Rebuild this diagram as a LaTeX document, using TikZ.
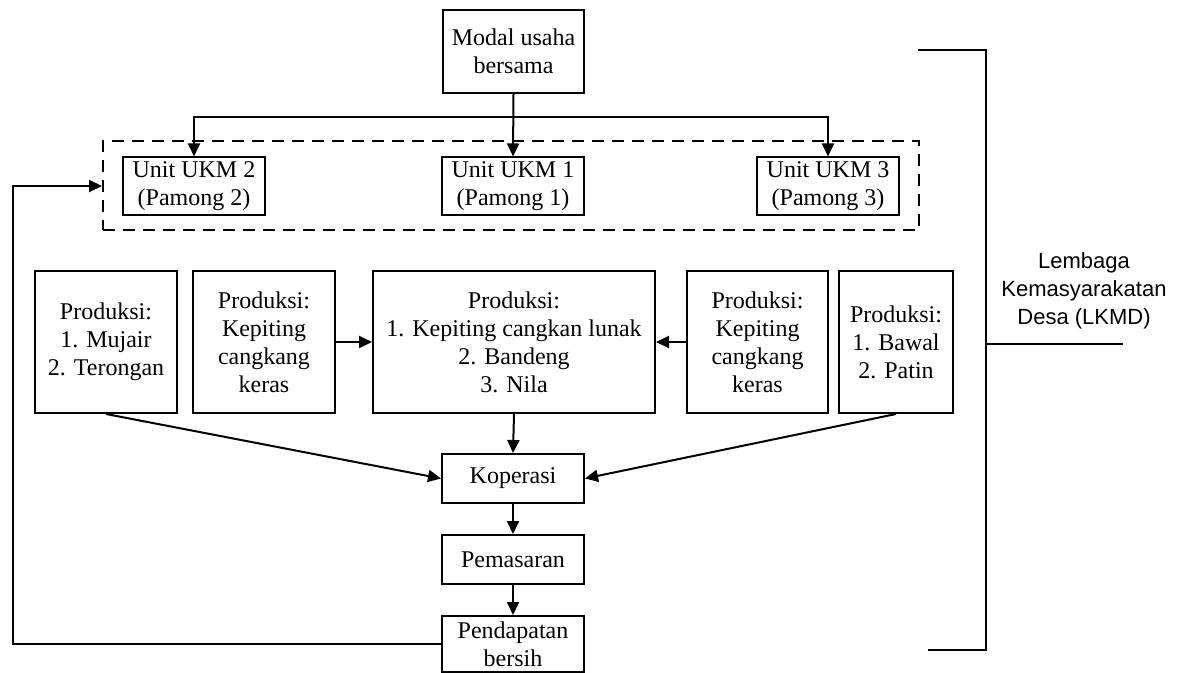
\documentclass[tikz,border=0pt]{standalone}
\usepackage{fontspec}
\setmainfont{Liberation Serif}
\newfontfamily\lkmdfont{Liberation Sans}
\usetikzlibrary{arrows.meta}
\tikzset{
  blk/.style={rectangle,draw=black,line width=1pt,fill=white,
    minimum width=71pt,minimum height=28pt,
    font=\fontsize{12}{14}\selectfont,align=center,inner sep=2pt},
  pblk/.style={blk,minimum height=71pt},
  grpbox/.style={rectangle,draw=black,line width=1pt,
    dash pattern=on 6pt off 4pt,inner sep=0pt},
  arr/.style={-{Triangle[length=6.5pt,width=6pt]},line width=1pt},
  brk/.style={line width=0.8pt},
  lbl/.style={font=\lkmdfont\fontsize{11}{14}\selectfont,align=center},
}
\begin{document}
\begin{tikzpicture}[x=0.5pt,y=-0.5pt]
  \useasboundingbox (0,0) rectangle (1193,673);

  %% Modal and units
  \node[blk,minimum height=41.5pt,minimum width=70.5pt] (modal) at (513.5,51.5) {Modal usaha\\bersama};
  \node[grpbox,minimum width=408pt,minimum height=44.5pt] (grp) at (511,186) {};
  \node[blk] (ukm2) at (194,186) {Unit UKM 2\\(Pamong 2)};
  \node[blk] (ukm1) at (513,186) {Unit UKM 1\\(Pamong 1)};
  \node[blk] (ukm3) at (828,186) {Unit UKM 3\\(Pamong 3)};

  %% Production row
  \node[pblk] (pA) at (106,342) {Produksi:\\1. Mujair\\2. Terongan};
  \node[pblk] (pB) at (264,342) {Produksi:\\Kepiting\\cangkang\\keras};
  \node[pblk,minimum width=141pt] (pC) at (514,342) {Produksi:\\1. Kepiting cangkan lunak\\2. Bandeng\\3. Nila};
  \node[pblk,minimum width=70.5pt] (pD) at (757.5,342) {Produksi:\\Kepiting\\cangkang\\keras};
  \node[pblk,minimum width=57pt] (pE) at (896,342) {Produksi:\\1. Bawal\\2. Patin};

  %% Chain to income
  \node[blk,minimum height=24.5pt] (kop) at (513,478.5) {Koperasi};
  \node[blk,minimum height=24.5pt] (pem) at (513,559.5) {Pemasaran};
  \node[blk] (pend) at (513,644) {Pendapatan\\bersih};

  %% Arrows
  \coordinate (split) at (513.5,117);
  \draw[arr] (modal.south) -- (ukm1.north);
  \draw[arr] (split) -| (ukm2.north);
  \draw[arr] (split) -| (ukm3.north);
  \draw[arr] (pB.east) -- (pC.west);
  \draw[arr] (pD.west) -- (pC.east);
  \draw[arr] (pC.south) -- (kop.north);
  \draw[arr] (pA.south) -- (kop.west);
  \draw[arr] (pE.south) -- (kop.east);
  \draw[arr] (kop.south) -- (pem.north);
  \draw[arr] (pem.south) -- (pend.north);
  \coordinate (fb) at (13,644);
  \draw[arr] (pend.west) -- (fb) |- (grp.west);

  %% LKMD bracket
  \draw[brk] (918,50) -| (986,650) -- (928,650);
  \draw[brk] (986,344) -- (1123,344);
  \node[lbl] (lkmd) at (1084,291) {Lembaga\\Kemasyarakatan\\Desa (LKMD)};
\end{tikzpicture}
\end{document}
